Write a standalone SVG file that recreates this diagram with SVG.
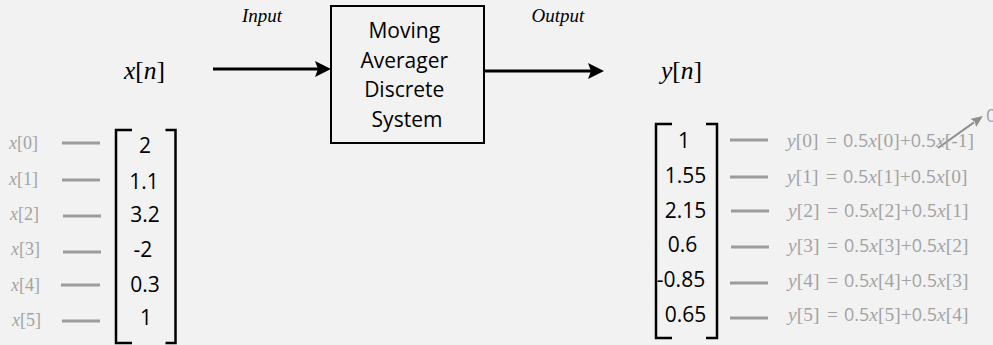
<svg xmlns="http://www.w3.org/2000/svg" width="993" height="345" viewBox="0 0 993 345">
  <style>
    .num { font-size: 21px; fill: #000; text-anchor: middle; }
    .lbl { font-size: 18px; fill: #a3a3a3; }
    .eq { font-size: 19.5px; fill: #a3a3a3; }
    .eq .s { font-size: 18px; }
    .dash { stroke: #9c9c9c; stroke-width: 3; fill: none; }
    .brk { stroke: #000; stroke-width: 2.5; fill: none; }
    .wire { stroke: #000; stroke-width: 3; fill: none; }
  </style>
  <defs>
    <marker id="headBlack" viewBox="0 0 16 16" markerWidth="16" markerHeight="16" refX="3" refY="8" orient="auto" markerUnits="userSpaceOnUse">
      <path d="M0,0 L16,8 L0,16 L3,8 Z" fill="#000"/>
    </marker>
    <marker id="headGray" viewBox="0 0 12 10" markerWidth="12" markerHeight="10" refX="1" refY="5" orient="auto" markerUnits="userSpaceOnUse">
      <path d="M0,0 L12,5 L0,10 L2,5 Z" fill="#8f8f8f"/>
    </marker>
  </defs>

  <rect width="993" height="345" fill="#f2f2f2"/>

  <!-- signal labels -->
  <g font-family="'Liberation Serif', 'DejaVu Serif', serif">
    <text x="262" y="22" font-size="19" font-style="italic" text-anchor="middle">Input</text>
    <text x="558" y="22" font-size="19" font-style="italic" text-anchor="middle">Output</text>
    <text x="124" y="79" font-size="25.5"><tspan font-style="italic">x</tspan>[<tspan font-style="italic">n</tspan>]</text>
    <text x="661" y="79" font-size="25.5"><tspan font-style="italic">y</tspan>[<tspan font-style="italic">n</tspan>]</text>
  </g>

  <!-- system block -->
  <g id="system">
    <rect x="331" y="6" width="153" height="137" fill="none" stroke="#000" stroke-width="2"/>
    <text font-family="'Open Sans', 'Liberation Sans', sans-serif" font-size="21" text-anchor="middle" fill="#000">
      <tspan x="407" y="38">Moving</tspan>
      <tspan x="407" y="68">Averager</tspan>
      <tspan x="407" y="97">Discrete</tspan>
      <tspan x="407" y="127">System</tspan>
    </text>
  </g>

  <!-- connectors -->
  <g id="connectors">
    <line class="wire" x1="213" y1="69" x2="318" y2="69" marker-end="url(#headBlack)"/>
    <line class="wire" x1="485" y1="71" x2="591" y2="71" marker-end="url(#headBlack)"/>
    <line x1="938" y1="148" x2="974" y2="122.4" stroke="#8f8f8f" stroke-width="2" marker-end="url(#headGray)"/>
  </g>

  <!-- input sequence x[n] -->
  <g id="input-vector">
    <path class="brk" d="M132,130 H116 V343 H132 M165.5,130 H175.5 V343 H165.5"/>
    <g font-family="'Open Sans', 'Liberation Sans', sans-serif">
      <text class="num" x="145" y="153">2</text>
      <text class="num" x="144" y="189">1.1</text>
      <text class="num" x="145" y="222">3.2</text>
      <text class="num" x="143" y="257">-2</text>
      <text class="num" x="145" y="292">0.3</text>
      <text class="num" x="146" y="325">1</text>
    </g>
    <line class="dash" x1="62" y1="143" x2="100" y2="143"/>
    <line class="dash" x1="62" y1="180" x2="100" y2="180"/>
    <line class="dash" x1="63" y1="216" x2="101" y2="216"/>
    <line class="dash" x1="63" y1="252" x2="101" y2="252"/>
    <line class="dash" x1="61" y1="285" x2="100" y2="285"/>
    <line class="dash" x1="62" y1="321" x2="100" y2="321"/>
    <g font-family="'Liberation Serif', 'DejaVu Serif', serif">
      <text class="lbl" x="9" y="149"><tspan font-style="italic">x</tspan>[0]</text>
      <text class="lbl" x="9" y="185"><tspan font-style="italic">x</tspan>[1]</text>
      <text class="lbl" x="10" y="220"><tspan font-style="italic">x</tspan>[2]</text>
      <text class="lbl" x="11" y="255"><tspan font-style="italic">x</tspan>[3]</text>
      <text class="lbl" x="11" y="291"><tspan font-style="italic">x</tspan>[4]</text>
      <text class="lbl" x="12" y="326"><tspan font-style="italic">x</tspan>[5]</text>
    </g>
  </g>

  <!-- output sequence y[n] -->
  <g id="output-vector">
    <path class="brk" d="M672,124 H656 V338 H672 M706,124 H717 V338 H706"/>
    <g font-family="'Open Sans', 'Liberation Sans', sans-serif">
      <text class="num" x="684" y="148">1</text>
      <text class="num" x="685.5" y="183">1.55</text>
      <text class="num" x="685.5" y="218">2.15</text>
      <text class="num" x="682.5" y="252">0.6</text>
      <text class="num" x="681" y="287">-0.85</text>
      <text class="num" x="685.5" y="322">0.65</text>
    </g>
    <line class="dash" x1="730" y1="140" x2="768" y2="140"/>
    <line class="dash" x1="730" y1="177" x2="768" y2="177"/>
    <line class="dash" x1="731" y1="211" x2="769" y2="211"/>
    <line class="dash" x1="731" y1="247" x2="769" y2="247"/>
    <line class="dash" x1="730" y1="283" x2="768" y2="283"/>
    <line class="dash" x1="730" y1="318" x2="768" y2="318"/>
  </g>

  <!-- difference equations: serif symbols, sans coefficients -->
  <g id="equations" font-family="'Liberation Serif', 'DejaVu Serif', serif">
    <text class="eq" x="787" y="147"><tspan font-style="italic">y</tspan>[0] <tspan x="826">=</tspan> <tspan class="s" x="843" font-family="'Open Sans', sans-serif">0.5</tspan><tspan font-style="italic">x</tspan>[0]+<tspan class="s" font-family="'Open Sans', sans-serif">0.5</tspan><tspan font-style="italic">x</tspan>[-1]</text>
    <text class="eq" x="787" y="183"><tspan font-style="italic">y</tspan>[1] <tspan x="826">=</tspan> <tspan class="s" x="843" font-family="'Open Sans', sans-serif">0.5</tspan><tspan font-style="italic">x</tspan>[1]+<tspan class="s" font-family="'Open Sans', sans-serif">0.5</tspan><tspan font-style="italic">x</tspan>[0]</text>
    <text class="eq" x="788" y="217"><tspan font-style="italic">y</tspan>[2] <tspan x="827">=</tspan> <tspan class="s" x="844" font-family="'Open Sans', sans-serif">0.5</tspan><tspan font-style="italic">x</tspan>[2]+<tspan class="s" font-family="'Open Sans', sans-serif">0.5</tspan><tspan font-style="italic">x</tspan>[1]</text>
    <text class="eq" x="788" y="252"><tspan font-style="italic">y</tspan>[3] <tspan x="827">=</tspan> <tspan class="s" x="844" font-family="'Open Sans', sans-serif">0.5</tspan><tspan font-style="italic">x</tspan>[3]+<tspan class="s" font-family="'Open Sans', sans-serif">0.5</tspan><tspan font-style="italic">x</tspan>[2]</text>
    <text class="eq" x="788" y="287"><tspan font-style="italic">y</tspan>[4] <tspan x="827">=</tspan> <tspan class="s" x="844" font-family="'Open Sans', sans-serif">0.5</tspan><tspan font-style="italic">x</tspan>[4]+<tspan class="s" font-family="'Open Sans', sans-serif">0.5</tspan><tspan font-style="italic">x</tspan>[3]</text>
    <text class="eq" x="788" y="321"><tspan font-style="italic">y</tspan>[5] <tspan x="827">=</tspan> <tspan class="s" x="844" font-family="'Open Sans', sans-serif">0.5</tspan><tspan font-style="italic">x</tspan>[5]+<tspan class="s" font-family="'Open Sans', sans-serif">0.5</tspan><tspan font-style="italic">x</tspan>[4]</text>
    <text x="986" y="122" font-family="'Open Sans', sans-serif" font-size="19" fill="#a3a3a3">0</text>
  </g>
</svg>
